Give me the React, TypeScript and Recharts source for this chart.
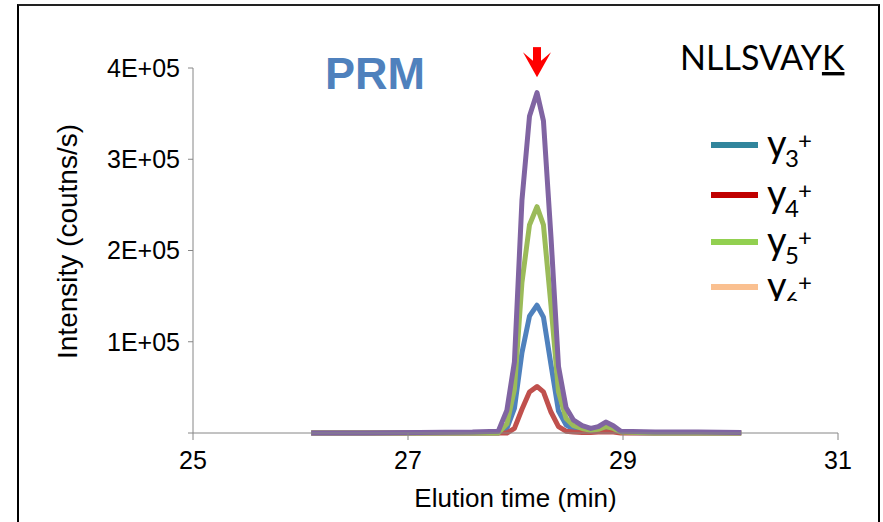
import { Label, Line, LineChart, ReferenceDot, XAxis, YAxis } from 'recharts'

// elution time (min) and fragment ion intensities (counts/s)
const times = [26.1, 26.6, 27.1, 27.6, 27.84, 27.92, 27.99, 28.06, 28.13, 28.2, 28.26, 28.33, 28.4, 28.47, 28.54, 28.62, 28.7, 28.77, 28.84, 28.91, 28.98, 29.3, 29.7, 30.1]
const y3 = [0, 0, 0, 0, 0, 5000, 27000, 88000, 128000, 140000, 127000, 75000, 24000, 9000, 4000, 2000, 2000, 3000, 4500, 3000, 500, 0, 0, 0]
const y4 = [0, 0, 0, 0, 0, 0, 5000, 26000, 45000, 51000, 45000, 23000, 7000, 2000, 1000, 500, 500, 1000, 1500, 1000, 0, 0, 0, 0]
const y5 = [0, 0, 0, 0, 0, 10000, 48000, 165000, 228000, 248000, 228000, 140000, 45000, 16000, 8000, 5000, 3000, 4000, 7000, 5000, 1000, 0, 0, 0]
// y6+ has no visible trace in this window
const y6: (number | null)[] = times.map(() => null)
const y7 = [0, 0, 500, 1000, 2000, 25000, 78000, 255000, 347000, 373000, 342000, 215000, 73000, 28000, 14000, 8000, 5000, 7000, 12000, 8000, 2000, 1000, 1000, 500]

const xTicks = [25, 27, 29, 31]
const yTicks = [0, 100000, 200000, 300000, 400000]
const apexTime = 28.2
const apexMark = 390000

const legendLabels = ['3', '4', '5', '6']
const legendColors = ['#31859C', '#C00000', '#92D050', '#FAC090']

const data = times.map((t, i) => ({ t, y3: y3[i], y4: y4[i], y5: y5[i], y6: y6[i], y7: y7[i] }))

const axisFont = '"Liberation Sans", Arial, sans-serif'
const calibriLike = 'Lato, "Open Sans", sans-serif'

function Arrow({ cx, cy }: { cx?: number; cy?: number }) {
  if (cx == null || cy == null) return null
  return (
    <g fill="#FF0000">
      <rect x={cx - 4} y={cy - 30} width={8} height={18} />
      <path d={`M${cx - 14},${cy - 25} L${cx},${cy - 13} L${cx + 14},${cy - 25} L${cx},${cy} Z`} />
    </g>
  )
}

function YTitle({ viewBox }: any) {
  const cx = 67
  const cy = viewBox.y + viewBox.height / 2 - 9
  return (
    <text
      x={cx}
      y={cy}
      transform={`rotate(-90, ${cx}, ${cy})`}
      textAnchor="middle"
      dominantBaseline="central"
      fontSize={28}
      fontFamily={axisFont}
      fill="#000"
    >
      Intensity (coutns/s)
    </text>
  )
}

const lineProps = { type: 'linear' as const, strokeWidth: 5, dot: false, isAnimationActive: false, strokeLinejoin: 'round' as const }

export default function App() {
  const legendY = [145, 195, 242, 287]
  return (
    <div style={{ position: 'absolute', left: 0, top: 0, width: 883, height: 522, overflow: 'hidden', background: '#fff' }}>
      <div
        style={{
          position: 'absolute',
          left: 17,
          top: 4,
          width: 859,
          height: 600,
          borderLeft: '2px solid #000',
          borderRight: '2px solid #000',
          borderTop: '2px solid #222',
        }}
      />
      <LineChart width={883} height={522} data={data} margin={{ top: 68, right: 45, bottom: 0, left: 0 }}>
        <XAxis
          dataKey="t"
          type="number"
          domain={[25, 31]}
          ticks={xTicks}
          height={89}
          stroke="#868686"
          tickSize={7}
          tickMargin={11}
          tick={{ fill: '#000', fontSize: 25, fontFamily: axisFont }}
        >
          <Label
            value="Elution time (min)"
            position="insideBottom"
            offset={15}
            style={{ fontSize: 26, fontFamily: axisFont, fill: '#000' }}
          />
        </XAxis>
        <YAxis
          type="number"
          domain={[0, 400000]}
          ticks={yTicks}
          width={193}
          stroke="#868686"
          tickSize={5}
          tickMargin={8}
          tickFormatter={(v: number) => (v === 0 ? '' : `${v / 100000}E+05`)}
          tick={{ fill: '#000', fontSize: 25, fontFamily: axisFont }}
        >
          <Label content={YTitle} />
        </YAxis>
        <Line dataKey="y6" stroke="#F79646" {...lineProps} />
        <Line dataKey="y3" stroke="#4F81BD" {...lineProps} />
        <Line dataKey="y4" stroke="#C0504D" {...lineProps} />
        <Line dataKey="y5" stroke="#9BBB59" {...lineProps} />
        <Line dataKey="y7" stroke="#8064A2" {...lineProps} />
        <ReferenceDot x={apexTime} y={apexMark} ifOverflow="visible" shape={(p: any) => <Arrow cx={p.cx} cy={p.cy} />} />
      </LineChart>
      <svg width={883} height={522} style={{ position: 'absolute', left: 0, top: 0, pointerEvents: 'none' }}>
        <text x={325} y={89} fontSize={45} fontWeight="bold" fontFamily={axisFont} fill="#4F81BD">
          PRM
        </text>
        <text x={680} y={70} fontSize={34} fontFamily={calibriLike} fill="#000">
          NLLSVAY<tspan textDecoration="underline">K</tspan>
        </text>
        <defs>
          <clipPath id="legclip">
            <rect x={690} y={100} width={186} height={201} />
          </clipPath>
        </defs>
        <g clipPath="url(#legclip)">
          {legendLabels.map((lab, i) => (
            <g key={lab}>
              <line x1={711} x2={758} y1={legendY[i]} y2={legendY[i]} stroke={legendColors[i]} strokeWidth={6} />
              <text x={767} y={legendY[i] + 12} fontSize={38} fontFamily={calibriLike} fill="#000">
                y
                <tspan x={785} y={legendY[i] + 22} fontSize={24}>
                  {lab}
                </tspan>
                <tspan x={798} y={legendY[i] + 4} fontSize={24}>
                  +
                </tspan>
              </text>
            </g>
          ))}
        </g>
      </svg>
    </div>
  )
}
